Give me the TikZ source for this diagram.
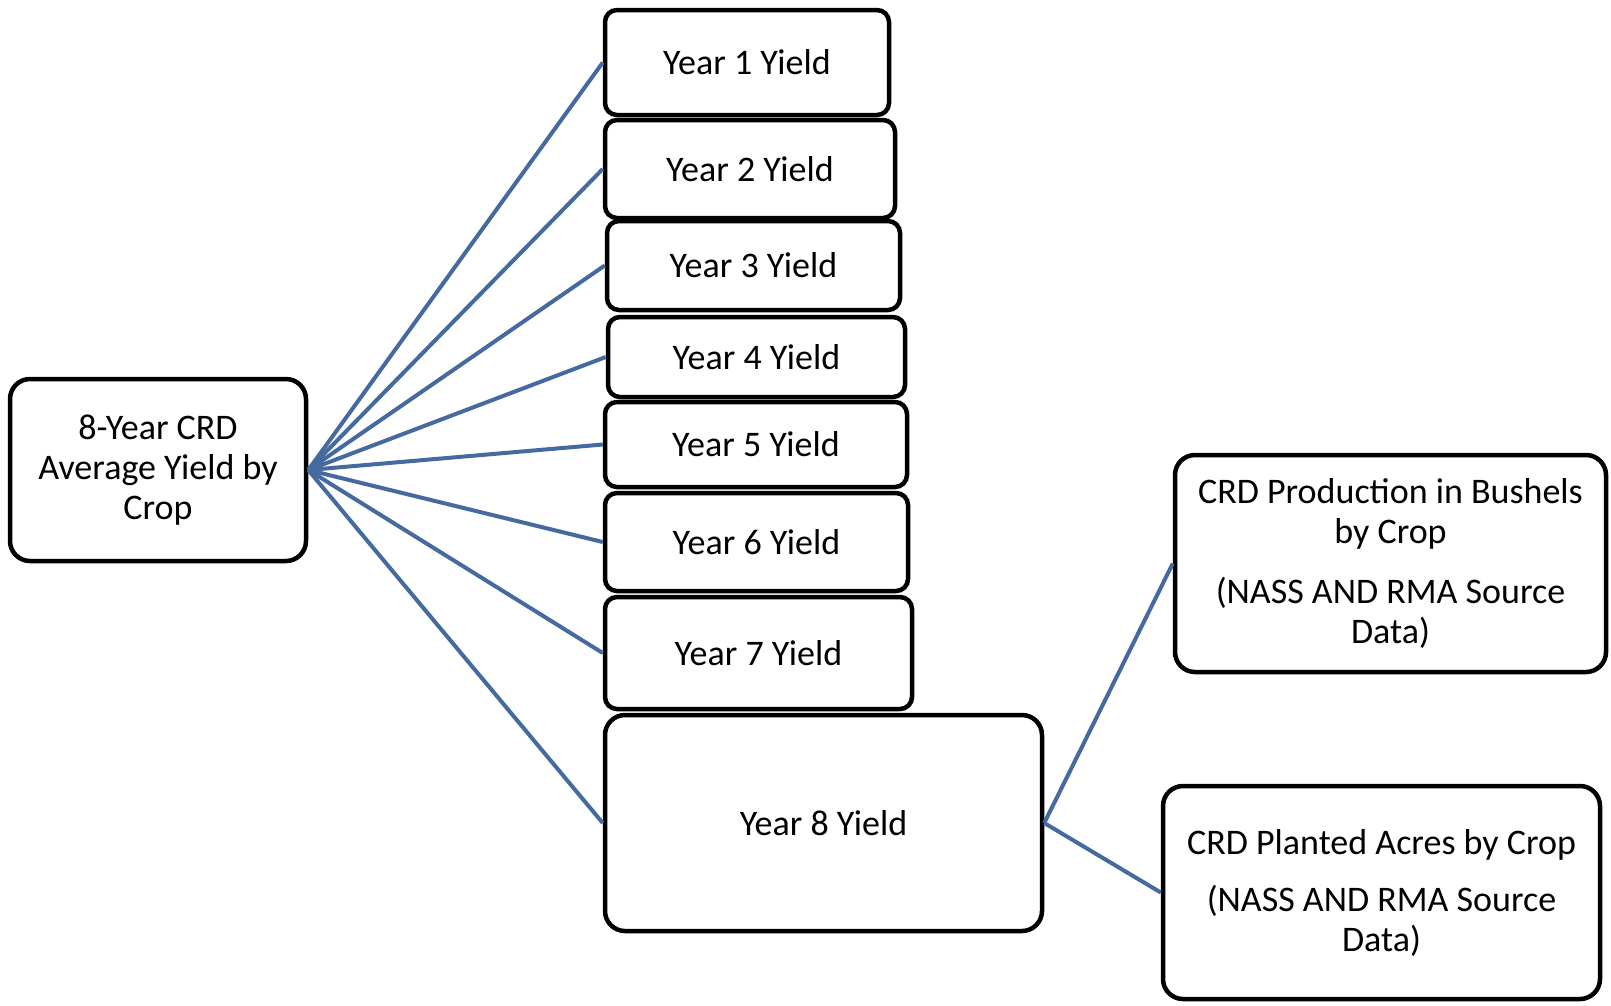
\documentclass[tikz,border=0pt]{standalone}
\usepackage{fontspec}
\setmainfont{Carlito}
\begin{document}
\begin{tikzpicture}[x=1pt,y=-1pt,
  box/.style={draw=black, line width=4.5pt, fill=white, rounded corners=12pt,
    inner sep=0pt, align=center, font=\fontsize{36}{40}\selectfont},
  bigbox/.style={box, rounded corners=20pt},
  link/.style={draw=linkblue, line width=4pt}]
\definecolor{linkblue}{RGB}{68,106,160}
\useasboundingbox (0,0) rectangle (1611,1005);
\fill[white] (0,0) rectangle (1611,1005);
% nodes
\node[bigbox, minimum width=296pt, minimum height=182pt] (avg) at (158,470) {8-Year CRD\\Average Yield by\\Crop};
\node[box, minimum width=284pt, minimum height=105pt] (y1) at (747,62.5) {Year 1 Yield};
\node[box, minimum width=290pt, minimum height=98pt] (y2) at (750,169) {Year 2 Yield};
\node[box, minimum width=293pt, minimum height=89pt] (y3) at (753.5,265.5) {Year 3 Yield};
\node[box, minimum width=297pt, minimum height=80pt] (y4) at (756.5,357) {Year 4 Yield};
\node[box, minimum width=302pt, minimum height=85pt] (y5) at (756,444.5) {Year 5 Yield};
\node[box, minimum width=303pt, minimum height=98pt] (y6) at (756.5,542) {Year 6 Yield};
\node[box, minimum width=307pt, minimum height=112pt] (y7) at (758.5,653) {Year 7 Yield};
\node[bigbox, minimum width=437pt, minimum height=216pt] (y8) at (823.5,823) {Year 8 Yield};
\node[bigbox, minimum width=431pt, minimum height=217pt] (prod) at (1390.5,563.5) {CRD Production in Bushels\\by Crop\\[20pt](NASS AND RMA Source\\Data)};
\node[bigbox, minimum width=437pt, minimum height=213pt] (plant) at (1381.5,892.5) {CRD Planted Acres by Crop\\[17pt](NASS AND RMA Source\\Data)};
% connectors
\foreach \n in {y1,y2,y3,y4,y5,y6,y7,y8}
  \draw[link] (avg.east) -- (\n.west);
\draw[link] (y8.east) -- (prod.west);
\draw[link] (y8.east) -- (plant.west);
\end{tikzpicture}
\end{document}
